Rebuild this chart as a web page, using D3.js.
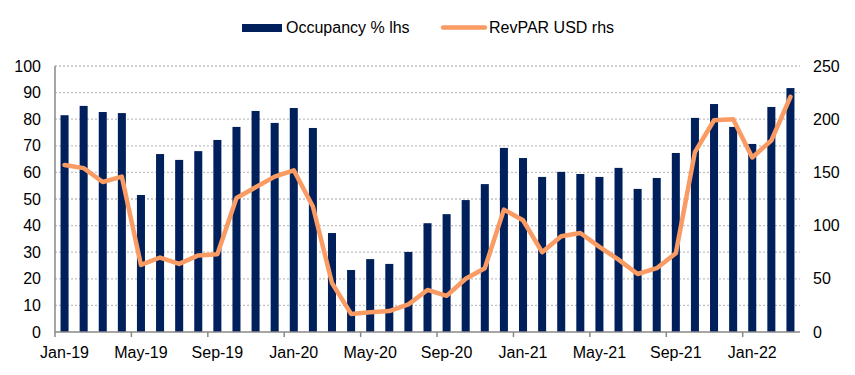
<!DOCTYPE html>
<html>
<head>
<meta charset="utf-8">
<script src="https://cdn.jsdelivr.net/npm/d3@7"></script>
<style>
  body { margin: 0; background: #fff; }
  svg text { font-family: "Liberation Sans", Arial, sans-serif; fill: #000; }
</style>
</head>
<body>
<div id="chart"></div>
<script>
const months = [
  'Jan-19', 'Feb-19', 'Mar-19', 'Apr-19', 'May-19', 'Jun-19', 'Jul-19', 'Aug-19', 'Sep-19', 'Oct-19', 'Nov-19', 'Dec-19',
  'Jan-20', 'Feb-20', 'Mar-20', 'Apr-20', 'May-20', 'Jun-20', 'Jul-20', 'Aug-20', 'Sep-20', 'Oct-20', 'Nov-20', 'Dec-20',
  'Jan-21', 'Feb-21', 'Mar-21', 'Apr-21', 'May-21', 'Jun-21', 'Jul-21', 'Aug-21', 'Sep-21', 'Oct-21', 'Nov-21', 'Dec-21',
  'Jan-22', 'Feb-22', 'Mar-22'
]

const occupancy = [
  81.5, 85.0, 82.7, 82.3, 51.5, 66.9, 64.7, 68.0, 72.2, 77.1, 83.1, 78.6,
  84.2, 76.7, 37.2, 23.3, 27.4, 25.6, 30.1, 40.9, 44.3, 49.6, 55.6, 69.2,
  65.4, 58.3, 60.2, 59.4, 58.3, 61.7, 53.8, 57.9, 67.3, 80.5, 85.7, 77.1,
  70.7, 84.6, 91.7
]

const revpar = [
  157, 154, 141, 146, 63, 70, 64, 72, 73, 126, 136, 146,
  152, 118, 46, 17, 18.5, 19.7, 26, 39.5, 34, 50, 60, 115,
  105, 75, 90, 93, 80, 68, 54.5, 60, 74, 169, 199, 200,
  164, 180, 221
]

const leftTicks = [0, 10, 20, 30, 40, 50, 60, 70, 80, 90, 100]
const rightTicks = [0, 50, 100, 150, 200, 250]

const width = 855
const height = 375
const margin = { top: 66, right: 55, bottom: 43, left: 55 }
const fontSize = 16

const barColor = '#00205B'
const lineColor = '#F99B63'
const gridColor = '#BFBFBF'
const axisColor = '#888888'

const svg = d3.select('#chart').append('svg')
  .attr('width', width)
  .attr('height', height)

const x = d3.scaleBand()
  .domain(months)
  .range([margin.left, width - margin.right])
  .padding(0)

const yL = d3.scaleLinear()
  .domain([0, 100])
  .range([height - margin.bottom, margin.top])

const yR = d3.scaleLinear()
  .domain([0, 250])
  .range([height - margin.bottom, margin.top])

const x0 = margin.left
const x1 = width - margin.right
const y0 = yL(0)

// gridlines
svg.append('g')
  .selectAll('line')
  .data(leftTicks.filter(d => d > 0))
  .join('line')
  .attr('x1', x0)
  .attr('x2', x1)
  .attr('y1', d => yL(d))
  .attr('y2', d => yL(d))
  .attr('stroke', gridColor)
  .attr('stroke-width', 1.3)
  .attr('stroke-dasharray', '2,2')

// bars
const bw = x.bandwidth() * 0.42
svg.append('g')
  .selectAll('rect')
  .data(occupancy)
  .join('rect')
  .attr('x', (d, i) => x(months[i]) + (x.bandwidth() - bw) / 2)
  .attr('y', d => yL(d))
  .attr('width', bw)
  .attr('height', d => y0 - yL(d))
  .attr('fill', barColor)

// line
const line = d3.line()
  .x((d, i) => x(months[i]) + x.bandwidth() / 2)
  .y(d => yR(d))

svg.append('path')
  .datum(revpar)
  .attr('fill', 'none')
  .attr('stroke', lineColor)
  .attr('stroke-width', 4.5)
  .attr('stroke-linejoin', 'round')
  .attr('stroke-linecap', 'round')
  .attr('d', line)

// axes
svg.append('line')
  .attr('x1', x0).attr('x2', x0)
  .attr('y1', yL(100)).attr('y2', y0)
  .attr('stroke', axisColor).attr('stroke-width', 1.5)

svg.append('line')
  .attr('x1', x0).attr('x2', x1)
  .attr('y1', y0).attr('y2', y0)
  .attr('stroke', axisColor).attr('stroke-width', 1.5)

const tickIdx = months.map((m, i) => i).filter(i => i % 4 === 0)

svg.append('g')
  .selectAll('line')
  .data(tickIdx)
  .join('line')
  .attr('x1', i => x(months[i]))
  .attr('x2', i => x(months[i]))
  .attr('y1', y0)
  .attr('y2', y0 + 5)
  .attr('stroke', axisColor)
  .attr('stroke-width', 1.5)

svg.append('g')
  .selectAll('text')
  .data(tickIdx)
  .join('text')
  .attr('x', i => x(months[i]) + x.bandwidth() / 2)
  .attr('y', y0 + 26)
  .attr('text-anchor', 'middle')
  .attr('font-size', fontSize)
  .text(i => months[i])

svg.append('g')
  .selectAll('text')
  .data(leftTicks)
  .join('text')
  .attr('x', 41)
  .attr('y', d => yL(d) + 5.5)
  .attr('text-anchor', 'end')
  .attr('font-size', fontSize)
  .text(d => d)

svg.append('g')
  .selectAll('text')
  .data(rightTicks)
  .join('text')
  .attr('x', 813)
  .attr('y', d => yR(d) + 5.5)
  .attr('text-anchor', 'start')
  .attr('font-size', fontSize)
  .text(d => d)

// legend
const legend = svg.append('g')

legend.append('rect')
  .attr('x', 242).attr('y', 24)
  .attr('width', 40).attr('height', 8)
  .attr('fill', barColor)

legend.append('text')
  .attr('x', 286).attr('y', 33)
  .attr('font-size', fontSize)
  .text('Occupancy % lhs')

legend.append('line')
  .attr('x1', 443).attr('x2', 485)
  .attr('y1', 27.5).attr('y2', 27.5)
  .attr('stroke', lineColor)
  .attr('stroke-width', 4.5)
  .attr('stroke-linecap', 'round')

legend.append('text')
  .attr('x', 489).attr('y', 33)
  .attr('font-size', fontSize)
  .text('RevPAR USD rhs')
</script>
</body>
</html>
